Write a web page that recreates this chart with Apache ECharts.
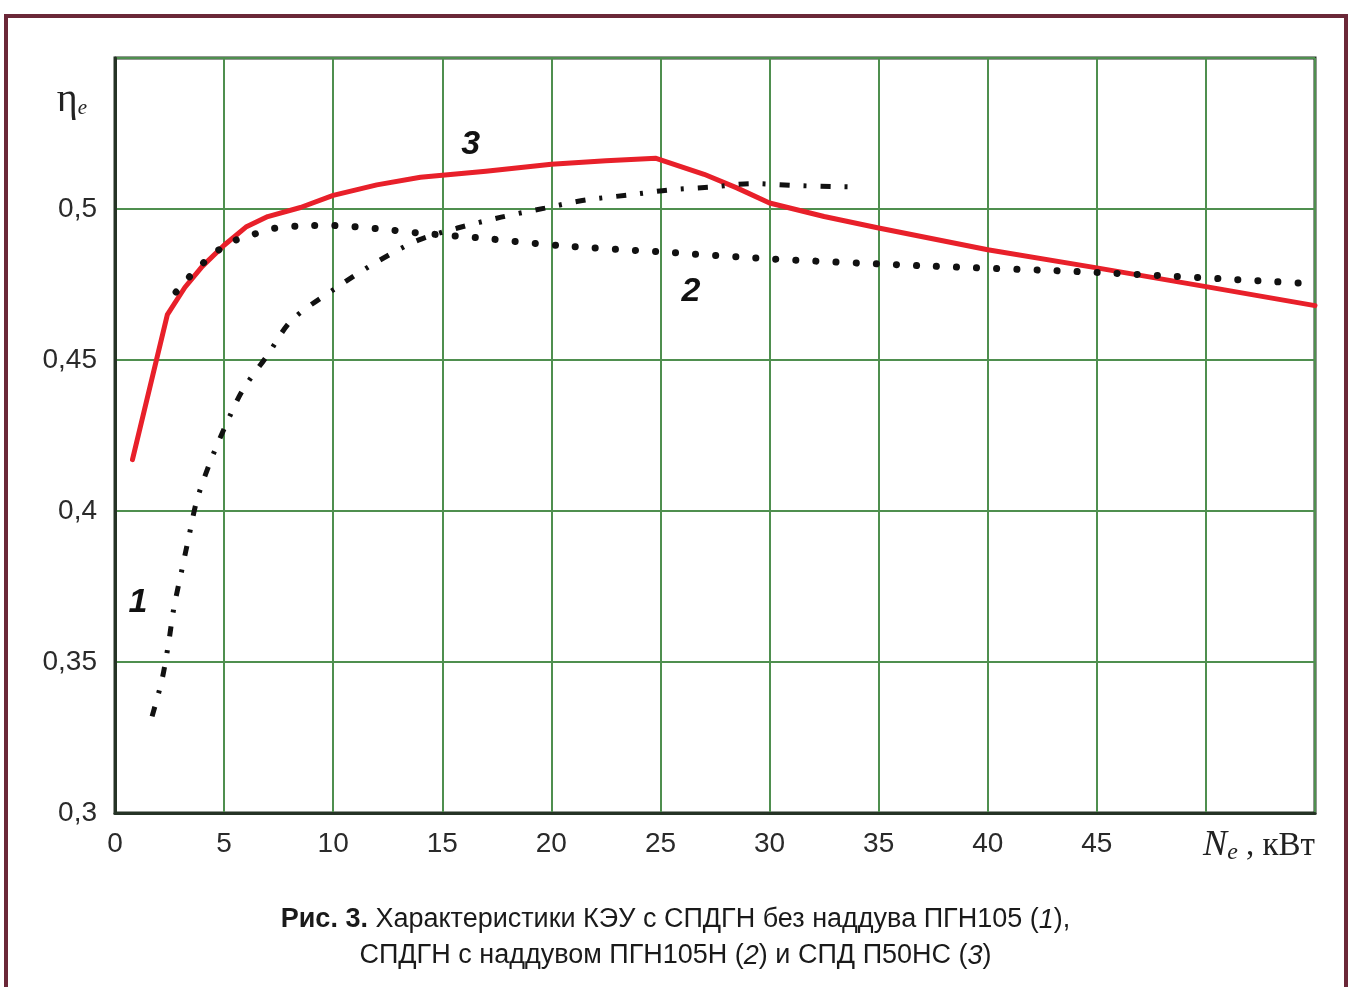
<!DOCTYPE html>
<html>
<head>
<meta charset="utf-8">
<script src="https://cdn.jsdelivr.net/npm/echarts@6/dist/echarts.min.js"></script>
<style>
  html, body { margin: 0; padding: 0; background: #fff; }
  #chart { width: 1351px; height: 987px; }
</style>
</head>
<body>
<div id="chart"></div>
<script>
// x ticks (Ne, кВт) and y ticks (ηe)
const xTicks = [0, 5, 10, 15, 20, 25, 30, 35, 40, 45, 50, 55];
const yTicks = [0.3, 0.35, 0.4, 0.45, 0.5, 0.55];

// curve 1: СПДГН без наддува ПГН105
const curve1 = [
  [1.7, 0.332], [2.15, 0.344], [2.45, 0.356], [2.7, 0.368], [3.05, 0.38],
  [3.4, 0.392], [3.75, 0.4035], [4.35, 0.416], [5.05, 0.428], [5.85, 0.44],
  [7.0, 0.4517], [8.1, 0.4632], [10.2, 0.4742], [12.0, 0.4825], [13.9, 0.4897],
  [15.7, 0.4937], [17.7, 0.4973], [19.7, 0.5003], [21.6, 0.503], [23.5, 0.5046],
  [25.4, 0.5063], [27.4, 0.5073], [29.2, 0.5084], [31.1, 0.5078], [33.0, 0.5074],
  [34.0, 0.5073]
];

// curve 2: СПДГН с наддувом ПГН105Н
const curve2 = [
  [2.8, 0.4725], [3.6, 0.479], [4.5, 0.485], [5.3, 0.489], [6.2, 0.4912],
  [7.2, 0.4935], [9.0, 0.4945], [10.0, 0.4945], [12.0, 0.4935], [14.0, 0.492],
  [16.6, 0.4905], [20.5, 0.4878], [25.0, 0.4858], [30.0, 0.4835], [37.0, 0.4812],
  [45.0, 0.479], [55.0, 0.4752]
];

// curve 3: СПД П50НС
const curve3 = [
  [0.8, 0.417], [2.4, 0.465], [3.2, 0.474], [4.0, 0.481], [5.0, 0.488],
  [6.0, 0.494], [7.0, 0.4975], [8.5, 0.5005], [10.0, 0.5045], [12.0, 0.508],
  [14.0, 0.5105], [17.0, 0.5125], [20.0, 0.5148], [22.5, 0.516], [24.8, 0.5168],
  [27.0, 0.5115], [28.5, 0.507], [30.0, 0.502], [32.5, 0.4975], [35.0, 0.4937],
  [40.0, 0.4865], [45.0, 0.4805], [50.0, 0.4743], [55.0, 0.468]
];

// curve number labels: [x, y, text]
const curveLabels = [
  [1.05, 0.3695, '1'],
  [26.4, 0.4725, '2'],
  [16.3, 0.5212, '3']
];

const chart = echarts.init(document.getElementById('chart'));

const labelFont = '"Liberation Sans", Arial, sans-serif';
const captionFont = '"Liberation Sans Narrow", "Arial Narrow", "Liberation Sans", sans-serif';

function numLabel(i) {
  const l = curveLabels[i];
  return {
    coord: [l[0], l[1]],
    value: l[2],
    symbol: 'circle',
    symbolSize: 1,
    itemStyle: { color: 'rgba(0,0,0,0)' },
    label: {
      show: true,
      position: 'inside',
      formatter: l[2],
      color: '#111',
      fontSize: 34,
      fontStyle: 'italic',
      fontWeight: 'bold',
      fontFamily: labelFont
    }
  };
}

const option = {
  backgroundColor: '#ffffff',
  animation: false,
  title: {
    text: '{b|Рис. 3.} Характеристики КЭУ с СПДГН без наддува ПГН105 ({i|1}),\nСПДГН с наддувом ПГН105Н ({i|2}) и СПД П50НС ({i|3})',
    left: 'center',
    top: 897,
    textStyle: {
      fontSize: 27,
      fontWeight: 'normal',
      fontFamily: captionFont,
      color: '#1a1a1a',
      lineHeight: 36,
      align: 'center',
      rich: {
        b: { fontSize: 27, fontWeight: 'bold', fontFamily: captionFont, color: '#1a1a1a', lineHeight: 36 },
        i: { fontSize: 27, fontStyle: 'italic', fontFamily: captionFont, color: '#1a1a1a', lineHeight: 36 }
      }
    }
  },
  graphic: [
    {
      type: 'rect',
      silent: true,
      shape: { x: 6, y: 16, width: 1340, height: 1000 },
      style: { fill: 'none', stroke: '#6b2838', lineWidth: 4 }
    }
  ],
  grid: {
    left: 115,
    top: 58,
    right: 36,
    bottom: 174,
    show: true,
    borderColor: '#253325',
    borderWidth: 3
  },
  xAxis: {
    type: 'value',
    min: xTicks[0],
    max: xTicks[xTicks.length - 1],
    interval: 5,
    name: '{n|N}{s|e}{c| , кВт}',
    nameLocation: 'end',
    nameGap: 0,
    nameTextStyle: {
      align: 'right',
      verticalAlign: 'top',
      padding: [14, 0, 0, 0],
      rich: {
        n: { fontSize: 36, fontStyle: 'italic', fontFamily: '"Liberation Serif", "DejaVu Serif", serif', color: '#222' },
        s: { fontSize: 24, fontStyle: 'italic', fontFamily: '"Liberation Serif", serif', color: '#222', padding: [14, 0, 0, 0] },
        c: { fontSize: 33, fontFamily: '"Liberation Serif", serif', color: '#222' }
      }
    },
    axisLine: { show: true, lineStyle: { color: '#253325', width: 3 } },
    axisTick: { show: false },
    axisLabel: {
      margin: 17,
      fontSize: 28,
      color: '#2a2a2a',
      fontFamily: labelFont,
      formatter: v => (v >= 50 ? '' : String(v))
    },
    splitLine: { show: true, lineStyle: { color: '#4f8f4f', width: 2 } }
  },
  yAxis: {
    type: 'value',
    min: yTicks[0],
    max: yTicks[yTicks.length - 1],
    interval: 0.05,
    name: '{e|η}{s|e}',
    nameLocation: 'end',
    nameGap: -62,
    nameTextStyle: {
      align: 'right',
      padding: [0, 28, 0, 0],
      rich: {
        e: { fontSize: 40, fontFamily: '"Liberation Serif", "DejaVu Serif", serif', color: '#222' },
        s: { fontSize: 21, fontStyle: 'italic', fontFamily: '"Liberation Serif", serif', color: '#222', padding: [16, 0, 0, 0] }
      }
    },
    axisLine: { show: true, lineStyle: { color: '#253325', width: 3 } },
    axisTick: { show: false },
    axisLabel: {
      margin: 18,
      fontSize: 28,
      color: '#2a2a2a',
      fontFamily: labelFont,
      formatter: v => (v > 0.54 ? '' : String(+v.toFixed(2)).replace('.', ','))
    },
    splitLine: { show: true, lineStyle: { color: '#4f8f4f', width: 2 } }
  },
  series: [
    {
      name: '1',
      type: 'line',
      data: curve1,
      smooth: 0.3,
      symbol: 'none',
      lineStyle: { color: '#111', width: 5, type: [10, 14, 3, 14], cap: 'butt' },
      markPoint: { silent: true, data: [numLabel(0)] },
      z: 3
    },
    {
      name: '2',
      type: 'line',
      data: curve2,
      smooth: 0.3,
      symbol: 'none',
      lineStyle: { color: '#111', width: 7, type: [0.1, 20], cap: 'round' },
      markPoint: { silent: true, data: [numLabel(1)] },
      z: 3
    },
    {
      name: '3',
      type: 'line',
      data: curve3,
      smooth: false,
      symbol: 'none',
      lineStyle: { color: '#e8202a', width: 5, cap: 'round', join: 'round' },
      markPoint: { silent: true, data: [numLabel(2)] },
      z: 2
    }
  ]
};

chart.setOption(option);
</script>
</body>
</html>
